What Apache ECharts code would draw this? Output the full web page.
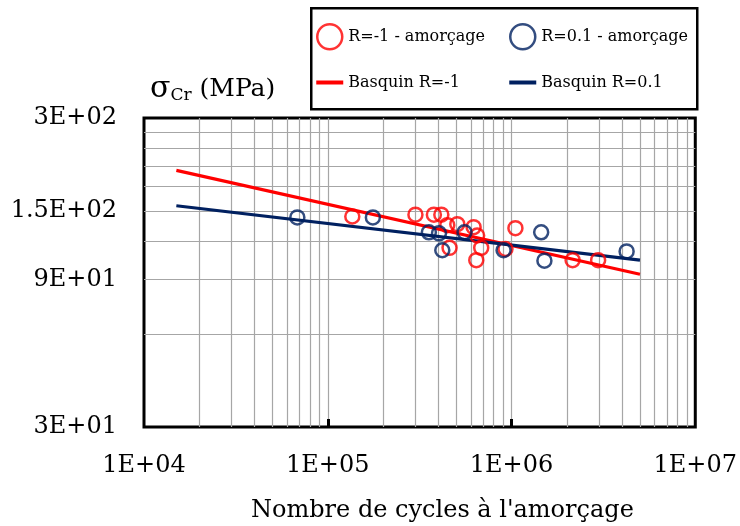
<!DOCTYPE html>
<html><head><meta charset="utf-8">
<script src="https://cdn.jsdelivr.net/npm/echarts@6/dist/echarts.min.js"></script>
<style>html,body{margin:0;padding:0;background:#fff}#c{width:740px;height:526px}</style>
</head><body><div id="c"></div>
<script>
// ---- data ----
const redCycles  = [1.36e5, 3.0e5, 3.78e5, 4.15e5, 4.47e5, 5.07e5, 6.22e5, 6.5e5, 4.6e5, 6.84e5, 6.43e5, 1.05e6, 9.27e5, 2.15e6, 2.96e6];
const redStress  = [144,    146,   146,    146,    135,    136,    133,    125,   114,   114,    104,    132,    113,    104,    104];
const blueCycles = [6.83e4, 1.76e5, 3.55e5, 4.03e5, 4.2e5, 5.55e5, 9.05e5, 1.45e6, 1.51e6, 4.23e6];
const blueStress = [143,    143,    128,    127,    112,   128,    112,    128,    103.6,  111];
const basquinRedCycles  = [1.5e4, 5.0e6];
const basquinRedStress  = [203, 93.6];
const basquinBlueCycles = [1.5e4, 5.0e6];
const basquinBlueStress = [156, 104];
const seriesNames = ['R=-1 - amorçage', 'R=0.1 - amorçage', 'Basquin R=-1', 'Basquin R=0.1'];
const xLabelValues = [1e4, 1e5, 1e6, 1e7];
const xLabelTexts  = ['1E+04', '1E+05', '1E+06', '1E+07'];
const xGridValues  = [2e4,3e4,4e4,5e4,6e4,7e4,8e4,9e4,1e5,2e5,3e5,4e5,5e5,6e5,7e5,8e5,9e5,1e6,2e6,3e6,4e6,5e6,6e6,7e6,8e6,9e6];
const xMajorTicks  = [1e5, 1e6];
const yLabelValues = [30, 90, 150, 300];
const yLabelTexts  = ['3E+01', '9E+01', '1.5E+02', '3E+02'];
const yGridValues  = [60, 90, 120, 150, 180, 210, 240, 270];
const xTitle = "Nombre de cycles à l'amorçage";

const RED = '#ff0000', BLUE = '#002060';
const FONT = 'DejaVu Serif';
const LINE_ICON = 'path://M0,0H27V4H0Z';
function zip(a, b) { return a.map((v, i) => [v, b[i]]); }
function pick(vals, texts) {
  return function (v) {
    let best = -1, bd = 1e9;
    vals.forEach((u, i) => { const d = Math.abs(Math.log10(v) - Math.log10(u)); if (d < bd) { bd = d; best = i; } });
    return bd < 0.01 ? texts[best] : '';
  };
}

const chart = echarts.init(document.getElementById('c'), null, {renderer: 'canvas'});
const legendCommon = {orient: 'vertical', top: 23, padding: 0, itemWidth: 27, itemHeight: 25, itemGap: 24,
  symbolKeepAspect: true, textStyle: {fontFamily: FONT, fontSize: 16, color: '#000'}};
chart.setOption({
  animation: false,
  backgroundColor: '#fff',
  grid: {left: 144, top: 118, right: 44, bottom: 99, show: true, borderColor: '#000', borderWidth: 3, backgroundColor: 'transparent'},
  xAxis: [{
    type: 'log', logBase: 10, min: 1e4, max: 1e7, position: 'bottom',
    axisLine: {show: false},
    axisTick: {show: false, customValues: xGridValues},
    splitLine: {show: true, lineStyle: {color: '#a6a6a6', width: 1.2}},
    axisLabel: {customValues: xLabelValues, formatter: pick(xLabelValues, xLabelTexts),
      fontFamily: FONT, fontSize: 24, color: '#000', margin: 27}
  }, {
    type: 'log', logBase: 10, min: 1e4, max: 1e7, position: 'bottom',
    axisLine: {show: false},
    axisTick: {show: true, inside: true, length: 8, customValues: xMajorTicks, lineStyle: {color: '#000', width: 3}},
    splitLine: {show: false},
    axisLabel: {show: false}
  }],
  yAxis: [{
    type: 'log', logBase: 10, min: 30, max: 300,
    axisLine: {show: false},
    axisTick: {show: false, customValues: yGridValues},
    splitLine: {show: true, lineStyle: {color: '#a6a6a6', width: 1.2}},
    axisLabel: {customValues: yLabelValues, formatter: pick(yLabelValues, yLabelTexts),
      fontFamily: FONT, fontSize: 24, color: '#000', margin: 27}
  }],
  legend: [Object.assign({}, legendCommon, {
    left: 316,
    data: [
      {name: seriesNames[0], icon: 'circle', itemStyle: {color: 'rgba(0,0,0,0)', borderColor: RED, borderWidth: 2.5}},
      {name: seriesNames[2], icon: LINE_ICON, itemStyle: {color: RED, borderWidth: 0}}
    ]
  }), Object.assign({}, legendCommon, {
    left: 509,
    data: [
      {name: seriesNames[1], icon: 'circle', itemStyle: {color: 'rgba(0,0,0,0)', borderColor: BLUE, borderWidth: 2.5}},
      {name: seriesNames[3], icon: LINE_ICON, itemStyle: {color: BLUE, borderWidth: 0}}
    ]
  })],
  graphic: [
    {type: 'rect', left: 310, top: 7, z: -1, shape: {width: 386, height: 101},
     style: {fill: '#fff', stroke: '#000', lineWidth: 2.5}},
    {type: 'text', left: 150, top: 74,
     style: {rich: {s: {fontFamily: FONT, fontSize: 30, fill: '#000'}, sub: {fontFamily: FONT, fontSize: 17, fill: '#000', padding: [14, 0, 0, 0]}, t: {fontFamily: FONT, fontSize: 25, fill: '#000'}},
       text: '{s|σ}{sub|Cr}{t| (MPa)}', fill: '#000'}},
    {type: 'text', left: 251, top: 499,
     style: {text: xTitle, fontFamily: FONT, fontSize: 24, fill: '#000'}}
  ],
  series: [
    {name: seriesNames[2], type: 'line', data: zip(basquinRedCycles, basquinRedStress), symbol: 'none', showSymbol: false,
     lineStyle: {color: RED, width: 3.2}, itemStyle: {color: RED}, z: 2},
    {name: seriesNames[3], type: 'line', data: zip(basquinBlueCycles, basquinBlueStress), symbol: 'none', showSymbol: false,
     lineStyle: {color: BLUE, width: 3.2}, itemStyle: {color: BLUE}, z: 2},
    {name: seriesNames[0], type: 'scatter', data: zip(redCycles, redStress), symbol: 'circle', symbolSize: 14,
     itemStyle: {color: 'rgba(0,0,0,0)', borderColor: RED, borderWidth: 2.5}, z: 3},
    {name: seriesNames[1], type: 'scatter', data: zip(blueCycles, blueStress), symbol: 'circle', symbolSize: 14,
     itemStyle: {color: 'rgba(0,0,0,0)', borderColor: BLUE, borderWidth: 2.5}, z: 3}
  ]
});
</script></body></html>
